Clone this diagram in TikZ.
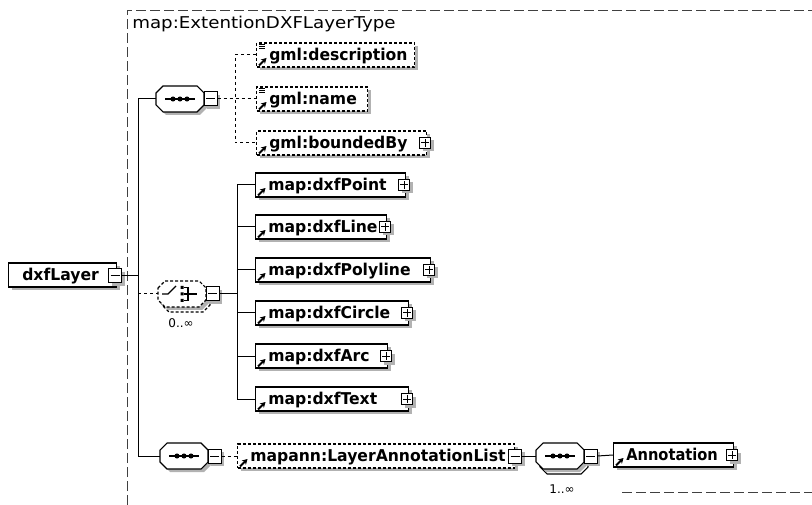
\documentclass[tikz,border=0pt]{standalone}
\usepackage{fontspec}
\setmainfont{DejaVu Sans}
\newfontfamily\titlefont[FakeStretch=1.12]{DejaVu Sans}
\newfontfamily\lblfont[FakeStretch=0.96]{DejaVu Sans}
\newfontfamily\lblnarrow[FakeStretch=0.9]{DejaVu Sans}
\usetikzlibrary{arrows.meta,shadows}

\tikzset{
  x=0.75pt, y=-0.75pt,
  lbl/.style={font=\lblfont\fontsize{12.2}{14}\selectfont\bfseries, inner sep=0pt, anchor=base west},
  shade/.style={general shadow={fill=black!30, shadow xshift=2.25pt, shadow yshift=-2.25pt}},
  box/.style={draw, line width=0.8pt, fill=white, inner sep=0pt, minimum height=18pt},
  optbox/.style={dash pattern=on 2.25pt off 1.5pt},
  shadowfill/.style={fill=black!30},
  conn/.style={line width=0.75pt},
  optconn/.style={line width=0.75pt, dash pattern=on 2.25pt off 2.25pt},
  minusb/.style={draw, line width=0.75pt, fill=white, shade, minimum width=9.75pt, minimum height=10.5pt, inner sep=0pt,
    path picture={\draw[line width=0.75pt] ([xshift=1.5pt]path picture bounding box.west) -- ([xshift=-1.5pt]path picture bounding box.east);}},
  plusb/.style={draw, line width=0.75pt, fill=white, shade, minimum size=8.25pt, inner sep=0pt,
    path picture={\draw[line width=0.75pt] ([xshift=1.2pt]path picture bounding box.west) -- ([xshift=-1.2pt]path picture bounding box.east)
      ([yshift=-1.2pt]path picture bounding box.north) -- ([yshift=1.2pt]path picture bounding box.south);}},
  refarrow/.style={line width=1.4pt, -{Stealth[length=4pt,width=4.5pt]}},
  border/.style={draw=black!75, line width=0.6pt, dash pattern=on 7.5pt off 3pt},
  mult/.style={font=\fontsize{9}{10}\selectfont, inner sep=0pt, anchor=base},
}

% element box: name, left x, right x, centre y, extra style, label
\newcommand\elembox[6]{%
  \pgfmathsetmacro\ebw{(#3-#2)*0.75}%
  \node[box,shade,#5,minimum width=\ebw pt,anchor=west] (#1) at (#2,#4) {};
  \node[lbl] (#1-t) at (#2+13,#4+5.5) {#6};
  \draw[refarrow] (#2+3,#4+10.5) -- (#2+10.5,#4+3);
}
% marker for simple-typed content
\newcommand\simplemark[2]{%
  \draw[line width=0.6pt] (#1+3,#2-10.5) -- ++(6,0) (#1+3,#2-8.5) -- ++(6,0) (#1+3,#2-6.5) -- ++(6,0);
}
% octagonal compositor outline
\newcommand\octpath[3]{%
  \path[#3] (#1-24,#2-6) -- (#1-17,#2-13) -- (#1+17,#2-13) -- (#1+24,#2-6)
     -- (#1+24,#2+6) -- (#1+17,#2+13) -- (#1-17,#2+13) -- (#1-24,#2+6) -- cycle;
}
% compositor: name, cx, cy, outline style
\newcommand\compositor[4]{%
  \octpath{#2+3}{#3+3}{shadowfill}
  \octpath{#2}{#3}{draw, line width=0.8pt, fill=white, #4}
  \node[minimum width=36pt, minimum height=19.5pt, inner sep=0pt] (#1) at (#2,#3) {};
  \node[minusb] (#1-x) at (#2+30.5,#3) {};
}
% sequence symbol
\newcommand\seqsym[2]{%
  \draw[line width=0.8pt] (#1-15,#2) -- (#1+15,#2);
  \fill (#1-7,#2) circle[radius=1.9pt] (#1,#2) circle[radius=1.9pt] (#1+7,#2) circle[radius=1.9pt];
}

\begin{document}
\begin{tikzpicture}
\useasboundingbox[fill=white] (0,0) rectangle (812,505);

% complex type frame
\draw[border] (127,505) -- (127,10) -- (812,10);
\draw[border] (622,492) -- (812,492);
\node[anchor=base west, inner sep=0pt, font=\titlefont\fontsize{12.2}{14}\selectfont] (title) at (132,29) {map:ExtentionDXFLayerType};

% root element
\node[box,shade,minimum width=81pt,anchor=west] (layer) at (8,275) {};
\node[lbl] (layer-t) at (22,280.5) {dxfLayer};
\node[minusb] (layer-x) at (115,276) {};

% first sequence
\compositor{seqa}{180}{99}{}
\seqsym{180}{99}
\elembox{desc}{256}{414}{55}{optbox}{gml:description}
\simplemark{256}{55}
\elembox{gname}{256}{367}{99}{optbox}{gml:name}
\simplemark{256}{99}
\elembox{bnd}{256}{426}{143}{optbox}{gml:boundedBy}
\node[plusb] (bnd-x) at ([xshift=-1.5pt]bnd.east) {};

% choice, repeated 0..unbounded
\octpath{186}{299}{draw, line width=0.8pt, fill=white, dash pattern=on 2.25pt off 1.5pt}
\compositor{cho}{182}{294}{dash pattern=on 2.25pt off 1.5pt}
\draw[line width=0.8pt] (162,294) -- (168,294) -- (176,286);
\fill (180.5,286) rectangle (183.5,289) (180.5,292.5) rectangle (183.5,295.5) (180.5,299) rectangle (183.5,302);
\draw[line width=0.8pt] (183.5,287.5) -- (188,287.5) -- (188,300.5) -- (183.5,300.5) (183.5,294) -- (197,294);
\node[mult] (cho-m) at (181,327) {0..∞};

\elembox{pnt}{255}{405}{185}{}{map:dxfPoint}
\node[plusb] (pnt-x) at ([xshift=-1.5pt]pnt.east) {};
\elembox{lin}{255}{386}{227}{}{map:dxfLine}
\node[plusb] (lin-x) at ([xshift=-1.5pt]lin.east) {};
\elembox{pln}{255}{430}{270}{}{map:dxfPolyline}
\node[plusb] (pln-x) at ([xshift=-1.5pt]pln.east) {};
\elembox{cir}{255}{408}{313}{}{map:dxfCircle}
\node[plusb] (cir-x) at ([xshift=-1.5pt]cir.east) {};
\elembox{arc}{255}{387}{356}{}{map:dxfArc}
\node[plusb] (arc-x) at ([xshift=-1.5pt]arc.east) {};
\elembox{txt}{255}{408}{399}{}{map:dxfText}
\node[plusb] (txt-x) at ([xshift=-1.5pt]txt.east) {};

% annotation sequence
\compositor{seqb}{184}{456}{}
\seqsym{184}{456}
\elembox{lal}{237}{514}{456}{optbox}{mapann:LayerAnnotationList}
\node[minusb] (lal-x) at (lal.east) {};
\octpath{564}{461}{draw, line width=0.8pt, fill=white}
\compositor{seqc}{560}{456}{}
\seqsym{560}{456}
\node[mult] (seqc-m) at (562,493) {1..∞};
\elembox{ann}{613}{733}{455}{}{\lblnarrow Annotation}
\node[plusb] (ann-x) at ([xshift=-1.5pt]ann.east) {};

% connectors
\coordinate (ja) at (138,276);
\coordinate (jb) at (235,99);
\coordinate (jc) at (237,294);
\draw[conn] (layer-x.east) -- (ja);
\draw[conn] (seqa.west) -- (seqa.west -| ja) -- (seqb.west -| ja) -- (seqb.west);
\draw[optconn] (ja |- cho.west) -- (cho.west);
\draw[optconn] (seqa-x.east) -- (jb) -- (gname.west);
\draw[optconn] (desc.west) -- (desc.west -| jb) -- (bnd.west -| jb) -- (bnd.west);
\draw[conn] (cho-x.east) -- (jc);
\draw[conn] (pnt.west) -- (pnt.west -| jc) -- (txt.west -| jc) -- (txt.west);
\foreach \n in {lin,pln,cir,arc} \draw[conn] (\n.west -| jc) -- (\n.west);
\draw[optconn] (seqb-x.east) -- (lal.west);
\draw[conn] (lal-x.east) -- (seqc.west);
\draw[conn] (seqc-x.east) -- (ann.west);
\end{tikzpicture}
\end{document}
